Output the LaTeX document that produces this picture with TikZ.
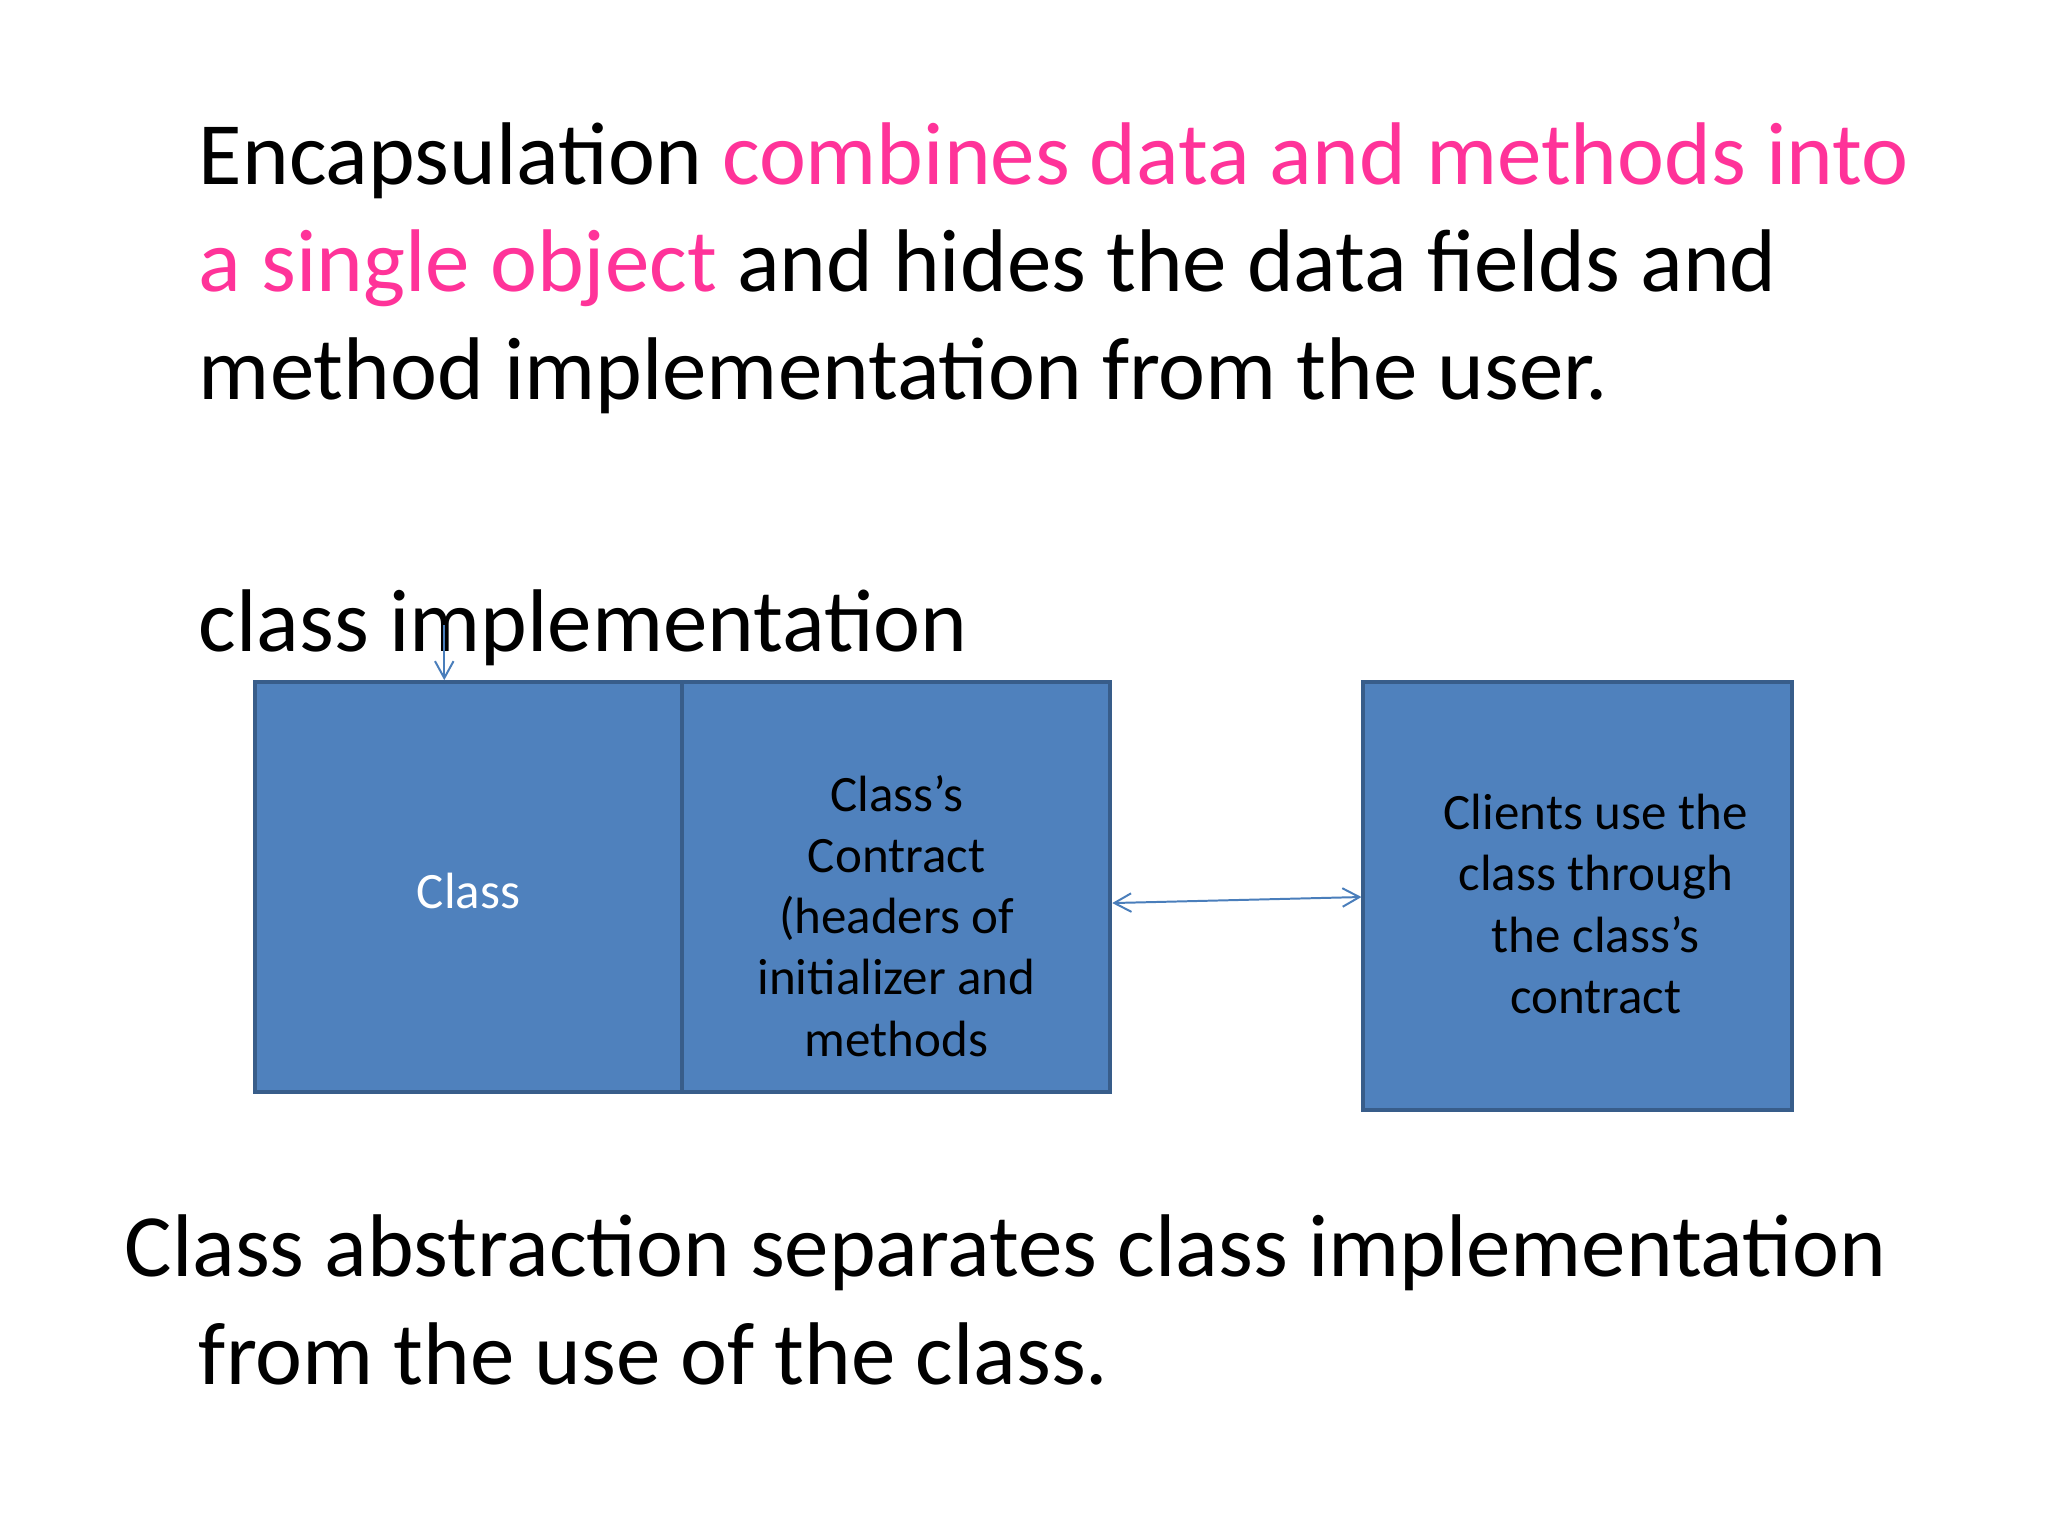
\documentclass[tikz,border=0pt]{standalone}
\usepackage{fontspec}
\setmainfont{Carlito}
\usepackage{xcolor}
\usetikzlibrary{positioning,
        arrows.meta}
\definecolor{hotpink}{HTML}{FF3399}
\definecolor{boxfill}{HTML}{4F81BD}
\definecolor{boxline}{HTML}{385D8A}
\definecolor{arrowblue}{HTML}{4A7EBB}

\begin{document}
\begin{tikzpicture}
        \useasboundingbox (0,0) rectangle (25.4,-19.05);
        \tikzset{bigtext/.style={anchor=base west,inner sep=0pt,font=\fontsize{31.4}{37.7}\selectfont},
                 block/.style={draw=boxline,fill=boxfill,line width=1.4pt,inner sep=0pt},
                 smalltext/.style={align=center,inner sep=0pt,font=\fontsize{18}{21.6}\selectfont},
                 link/.style={draw=arrowblue,line width=0.7pt,>={Straight Barb[length=2.1mm,width=2.3mm]}}}

        \node [bigtext] (line1) at (2.46,-2.29) {Encapsulation \textcolor{hotpink}{combines data and methods into}};
        \node [bigtext] (line2) at (2.46,-3.62) {\textcolor{hotpink}{a single object} and hides the data fields and};
        \node [bigtext] (line3) at (2.46,-4.95) {method implementation from the user.};

        \node [bigtext] (impl) at (2.46,-8.08) {class implementation};

        \node [block,minimum width=5.30cm,minimum height=5.08cm] (classbox) at (5.81,-11.0) {};
        \node [block,minimum width=5.31cm,minimum height=5.08cm] (contract) at (11.115,-11.0) {};
        \node [block,minimum width=5.31cm,minimum height=5.31cm] (client) at (19.565,-11.115) {};

        \node [smalltext,text=white,yshift=-0.05cm] (classtext) at (classbox) {Class};
        \node [smalltext] (contracttext) at (11.12,-11.36) {Class’s\\Contract\\(headers of\\initializer and\\methods};
        \node [smalltext] (clienttext) at (19.79,-11.21) {Clients use the\\class through\\the class’s\\contract};

        \coordinate (ptr) at (5.51,-7.75);
        \draw [link,->] (ptr) -- (ptr |- classbox.north);
        \draw [link,<->] ([yshift=-0.2cm]contract.east) -- ([yshift=-0.01cm]client.west);

        \node [bigtext] (abs1) at (1.54,-15.83) {Class abstraction separates class implementation};
        \node [bigtext] (abs2) at (2.46,-17.17) {from the use of the class.};
\end{tikzpicture}
\end{document}
